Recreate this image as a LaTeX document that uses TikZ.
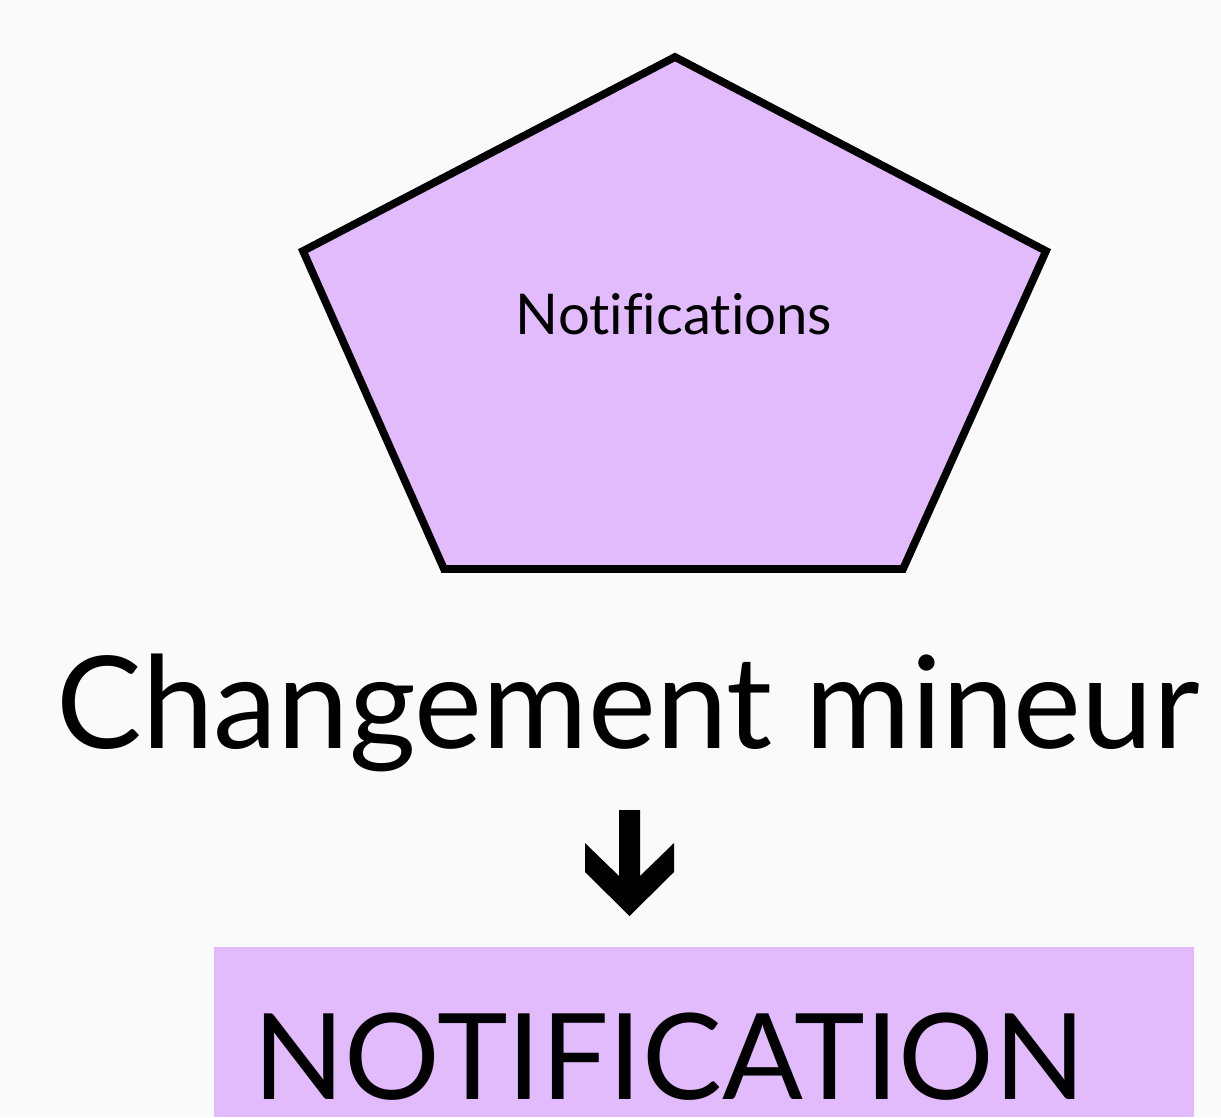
\documentclass[tikz,border=0pt]{standalone}
\usepackage{fontspec}
\setmainfont{Lato}[Ligatures=NoCommon]
\begin{document}
\begin{tikzpicture}[x=0.01cm, y=-0.01cm,
  lilacfill/.style={fill=lilac},
  plaintext/.style={inner sep=0pt, text=black, anchor=base}]
\definecolor{bg}{HTML}{FAFAFA}
\definecolor{lilac}{HTML}{E1BBFB}
\fill[bg] (0,0) rectangle (1221,1117);
\useasboundingbox (0,0) rectangle (1221,1117);
% pentagon
\filldraw[lilacfill, line width=2.2pt] (675,57) -- (1046,251) -- (903,569) -- (444,569) -- (303,251) -- cycle;
\node[plaintext, font=\fontsize{16}{19}\selectfont] (notifs) at (674,334) {Notifications};
% caption and arrow
\node[plaintext, font=\fontsize{36.5}{44}\selectfont] (change) at (628,748) {Changement mineur};
\fill[black] (619,810) -- (640,810) -- (640,876) -- (674,843) -- (674,872) -- (629.5,916) -- (585,872) -- (585,843) -- (619,876) -- cycle;
% bottom box
\fill[lilacfill] (214,947) rectangle (1194,1117);
\node[plaintext, text depth=0pt, font=\fontsize{34}{40}\selectfont] (notifbox) at (669.5,1099) {NOTIFICATION};
\end{tikzpicture}
\end{document}
